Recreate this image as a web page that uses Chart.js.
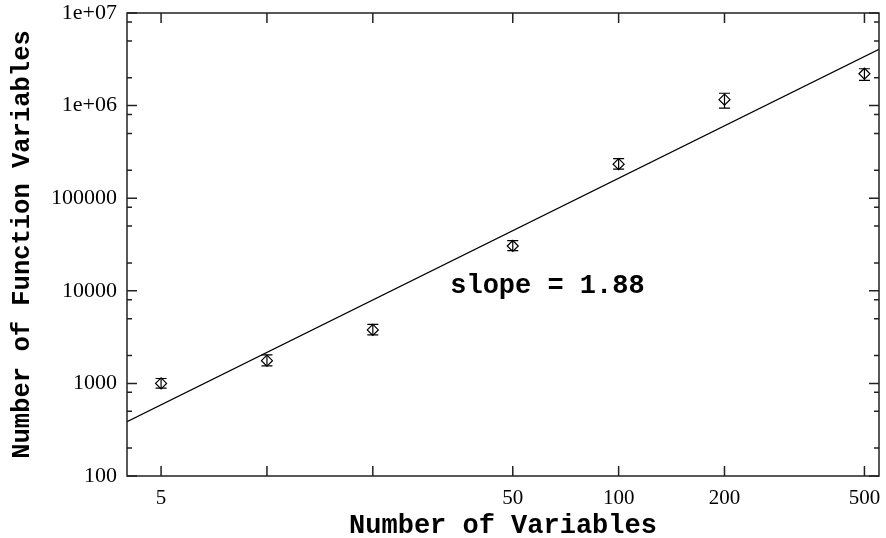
<!DOCTYPE html>
<html><head><meta charset="utf-8">
<script src="https://cdn.jsdelivr.net/npm/chart.js@4"></script>
<style>html,body{margin:0;padding:0;background:#fff;}</style>
</head><body><canvas id="c" width="886" height="538"></canvas>
<script>
// ---- data ----
const numVariables = [5, 10, 20, 50, 100, 200, 500];
const funcVariables = [1000, 1760, 3780, 30500, 233000, 1160000, 2210000];
const funcLow = [890, 1550, 3340, 27200, 206000, 940000, 1870000];
const funcHigh = [1130, 2030, 4350, 34800, 268000, 1360000, 2500000];
const fitX = [4, 550];
const fitY = [386, 4050000];
const xTickValues = [5, 10, 20, 50, 100, 200, 500];
const xTickLabels = ['5', '', '', '50', '100', '200', '500'];
const yTickValues = [100, 1000, 10000, 100000, 1000000, 10000000];
const yTickLabels = ['100', '1000', '10000', '100000', '1e+06', '1e+07'];
const yMinorTicks = [200, 500, 800, 2000, 5000, 8000, 20000, 50000, 80000, 200000, 500000, 800000, 2000000, 5000000, 8000000];
const slopeText = 'slope = 1.88';
const slopeAnchor = { x: 33.2, y: 9500 };

const framePlugin = {
  id: 'frame',
  afterDatasetsDraw(chart) {
    const { ctx, chartArea: a, scales: { x, y } } = chart;
    ctx.save();
    ctx.strokeStyle = '#000';
    ctx.lineWidth = 1.2;
    numVariables.forEach((v, i) => {
      const px = x.getPixelForValue(v);
      const lo = y.getPixelForValue(funcLow[i]);
      const hi = y.getPixelForValue(funcHigh[i]);
      ctx.beginPath();
      ctx.moveTo(px, lo); ctx.lineTo(px, hi);
      ctx.moveTo(px - 5.5, lo); ctx.lineTo(px + 5.5, lo);
      ctx.moveTo(px - 5.5, hi); ctx.lineTo(px + 5.5, hi);
      ctx.stroke();
    });
    ctx.strokeStyle = '#222';
    ctx.lineWidth = 1.5;
    ctx.beginPath();
    xTickValues.forEach(v => {
      const px = x.getPixelForValue(v);
      ctx.moveTo(px, a.bottom); ctx.lineTo(px, a.bottom - 10);
      ctx.moveTo(px, a.top); ctx.lineTo(px, a.top + 10);
    });
    yTickValues.forEach(v => {
      const py = y.getPixelForValue(v);
      ctx.moveTo(a.left, py); ctx.lineTo(a.left + 10, py);
      ctx.moveTo(a.right, py); ctx.lineTo(a.right - 10, py);
    });
    yMinorTicks.forEach(v => {
      const py = y.getPixelForValue(v);
      ctx.moveTo(a.left, py); ctx.lineTo(a.left + 5, py);
      ctx.moveTo(a.right, py); ctx.lineTo(a.right - 5, py);
    });
    ctx.stroke();
    ctx.strokeRect(a.left, a.top, a.right - a.left, a.bottom - a.top);
    ctx.fillStyle = '#000';
    ctx.font = 'bold 27px "Liberation Mono", monospace';
    ctx.textAlign = 'left';
    ctx.textBaseline = 'alphabetic';
    ctx.fillText(slopeText, x.getPixelForValue(slopeAnchor.x), y.getPixelForValue(slopeAnchor.y));
    ctx.restore();
  }
};

new Chart(document.getElementById('c'), {
  type: 'scatter',
  data: {
    datasets: [
      {
        label: 'fit',
        data: fitX.map((v, i) => ({ x: v, y: fitY[i] })),
        showLine: true, borderColor: '#000', borderWidth: 1.2,
        pointRadius: 0, fill: false, order: 2
      },
      {
        label: 'data',
        data: numVariables.map((v, i) => ({ x: v, y: funcVariables[i] })),
        showLine: false, pointStyle: 'rectRot', pointRadius: 5.5,
        borderColor: '#000', borderWidth: 1.2, backgroundColor: 'rgba(0,0,0,0)', order: 1
      }
    ]
  },
  options: {
    responsive: false, animation: false, devicePixelRatio: 1,
    layout: { padding: { top: 13, right: 7, left: 0, bottom: 0 } },
    plugins: { legend: { display: false }, tooltip: { enabled: false } },
    scales: {
      x: {
        type: 'logarithmic', position: 'bottom', min: 4, max: 550,
        afterBuildTicks: s => { s.ticks = xTickValues.map(v => ({ value: v })); },
        afterFit: s => { s.height = 62; s.paddingLeft = 0; s.paddingRight = 0; s.paddingTop = 0; s.paddingBottom = 0; },
        grid: { display: false, drawTicks: false, tickLength: 0 }, border: { display: false },
        ticks: {
          autoSkip: false, maxRotation: 0, padding: 9.5, color: '#000',
          font: { family: '"Liberation Serif", serif', size: 21 },
          callback: v => { const i = xTickValues.indexOf(v); return i >= 0 ? xTickLabels[i] : ''; }
        },
        title: {
          display: true, text: 'Number of Variables', color: '#000',
          font: { family: '"Liberation Mono", monospace', size: 27, weight: 'bold', lineHeight: 0.9 },
          padding: { top: 0, bottom: 0 }
        }
      },
      y: {
        type: 'logarithmic', position: 'left', min: 100, max: 10000000,
        afterBuildTicks: s => { s.ticks = yTickValues.map(v => ({ value: v })); },
        afterFit: s => { s.width = 127; s.paddingLeft = 0; s.paddingRight = 0; s.paddingTop = 0; s.paddingBottom = 0; },
        grid: { display: false, drawTicks: false, tickLength: 0 }, border: { display: false },
        ticks: {
          autoSkip: false, padding: 10, color: '#000',
          font: { family: '"Liberation Serif", serif', size: 22 },
          callback: v => { const i = yTickValues.indexOf(v); return i >= 0 ? yTickLabels[i] : ''; }
        },
        title: {
          display: true, text: 'Number of Function Variables', color: '#000',
          font: { family: '"Liberation Mono", monospace', size: 25.5, weight: 'bold' },
          padding: { top: 7.5, bottom: 0 }
        }
      }
    }
  },
  plugins: [framePlugin]
});
</script>
</body></html>
